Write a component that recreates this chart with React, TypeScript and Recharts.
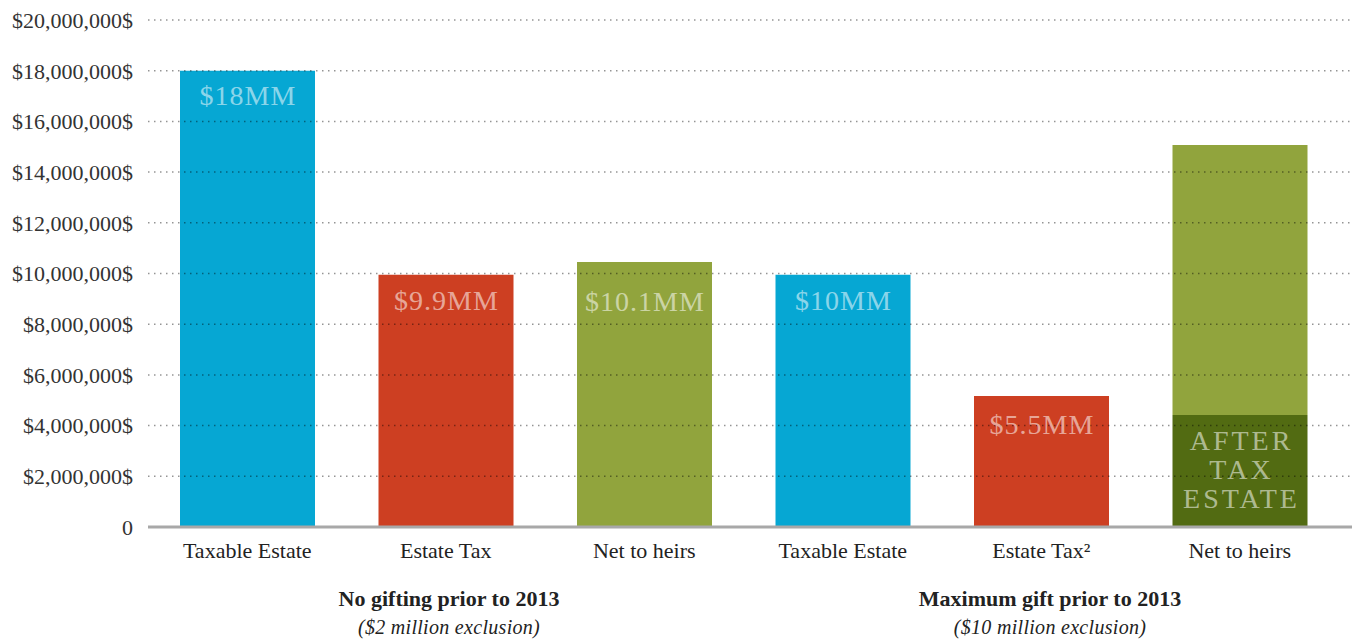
import React from "react";
import { BarChart, Bar, XAxis, YAxis, Cell, LabelList, ReferenceLine } from "recharts";

const categories = ["Taxable Estate", "Estate Tax", "Net to heirs", "Taxable Estate", "Estate Tax²", "Net to heirs"];
const baseValues = [18000000, 9950000, 10450000, 9950000, 5170000, 4420000];
const giftValues = [null, null, null, null, null, 10650000];
const baseLabels = [["$18MM"], ["$9.9MM"], ["$10.1MM"], ["$10MM"], ["$5.5MM"], ["AFTER", "TAX", "ESTATE"]];
const giftLabels = [[], [], [], [], [], ["$10MM", "GIFT"]];
const yTicks = [0, 2000000, 4000000, 6000000, 8000000, 10000000, 12000000, 14000000, 16000000, 18000000, 20000000];
const groupTitles = ["No gifting prior to 2013", "Maximum gift prior to 2013"];
const groupSubtitles = ["($2 million exclusion)", "($10 million exclusion)"];

const baseColors = ["#06a7d3", "#cd3f22", "#91a43d", "#06a7d3", "#cd3f22", "#526b12"];
const giftColor = "#91a43d";
const baseLabelOffsets = [25, 26, 39, 26, 29, 26];
const giftLabelOffset = 77;

const data = categories.map((c, i) => ({
  id: i,
  name: c,
  base: baseValues[i],
  gift: giftValues[i],
}));

const SERIF = "'Liberation Serif', 'Times New Roman', serif";

const fmtY = (v: number) => (v === 0 ? "0" : "$" + v.toLocaleString("en-US") + "$");

const makeLabel = (labels: string[][], offsets: (i: number) => number, lineH: number) => (props: any) => {
  const { x, y, width, index } = props;
  const lines = labels[index] || [];
  if (!lines.length) return null;
  const cx = Number(x) + Number(width) / 2;
  const top = Number(y) + offsets(index);
  return (
    <g>
      {lines.map((ln, k) => {
        const caps = /^[A-Z]+$/.test(ln);
        return (
          <text
            key={k}
            x={cx + (caps ? 1.5 : 0.5)}
            y={top + k * lineH}
            textAnchor="middle"
            dominantBaseline="central"
            fontFamily={SERIF}
            fontSize={28}
            letterSpacing={caps ? 3 : 1}
            fill="rgba(255,255,255,0.55)"
          >
            {ln}
          </text>
        );
      })}
    </g>
  );
};

const CatTick = (props: any) => {
  const { x, y, payload } = props;
  const label = categories[payload.value] ?? "";
  return (
    <text x={x} y={y} dy="0.71em" textAnchor="middle" fontFamily={SERIF} fontSize={22} fill="#222">
      {label}
    </text>
  );
};

export default function App() {
  return (
    <div style={{ position: "absolute", left: 0, top: 0, width: 1352, height: 640, background: "#fff" }}>
      <BarChart width={1352} height={640} data={data} margin={{ top: 20, right: 0, left: 0, bottom: 0 }} barSize={135}>
        <XAxis
          dataKey="id"
          type="category"
          height={113}
          tick={<CatTick />}
          tickLine={false}
          tickSize={0}
          tickMargin={15}
          axisLine={{ stroke: "#a8a8a8", strokeWidth: 3 }}
          padding={{ left: 0, right: 13 }}
          interval={0}
        />
        <YAxis
          width={148}
          domain={[0, 20000000]}
          ticks={yTicks}
          tickFormatter={fmtY}
          axisLine={false}
          tickLine={false}
          tickSize={0}
          tickMargin={15}
          tick={{ fontFamily: SERIF, fontSize: 22, fill: "#333" }}
          interval={0}
        />
        <Bar dataKey="base" stackId="a" isAnimationActive={false}>
          {data.map((d, i) => (
            <Cell key={i} fill={baseColors[i]} />
          ))}
          <LabelList dataKey="base" content={makeLabel(baseLabels, (i) => baseLabelOffsets[i], 29)} />
        </Bar>
        <Bar dataKey="gift" stackId="a" fill={giftColor} isAnimationActive={false}>
          <LabelList dataKey="gift" content={makeLabel(giftLabels, () => giftLabelOffset, 24)} />
        </Bar>
        {yTicks.slice(1).map((t) => (
          <ReferenceLine key={t} y={t} stroke="rgba(0,0,0,0.42)" strokeWidth={1.5} strokeDasharray="1.5 4.5" />
        ))}
      </BarChart>
      {groupTitles.map((t, i) => (
        <div
          key={t}
          style={{
            position: "absolute",
            left: (i === 0 ? 449 : 1050) - 200,
            width: 400,
            top: 586,
            textAlign: "center",
            fontFamily: SERIF,
            lineHeight: "26px",
            color: "#222",
          }}
        >
          <div style={{ fontWeight: "bold", fontSize: 22 }}>{t}</div>
          <div style={{ fontStyle: "italic", fontSize: 20, marginTop: 2, letterSpacing: 0.3 }}>{groupSubtitles[i]}</div>
        </div>
      ))}
    </div>
  );
}
